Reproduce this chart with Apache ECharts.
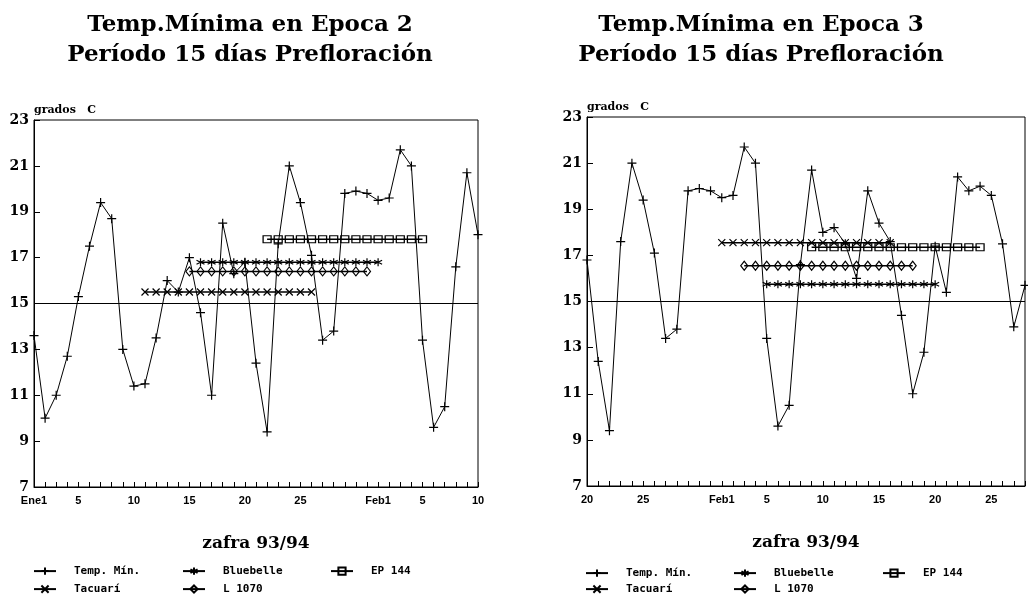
<!DOCTYPE html>
<html>
<head>
<meta charset="utf-8">
<script src="https://cdn.jsdelivr.net/npm/echarts@6/dist/echarts.min.js"></script>
<style>
  html, body { margin: 0; padding: 0; background: #fff; }
  #main { width: 1028px; height: 611px; }
</style>
</head>
<body>
<div id="main"></div>
<script>
// temperatura minima diaria, dia 1 = 1 de enero ... dia 59 = 28 de febrero
var tempMin = [
  13.6, 10.0, 11.0, 12.7, 15.3, 17.5, 19.4, 18.7, 13.0, 11.4,
  11.5, 13.5, 16.0, 15.5, 17.0, 14.6, 11.0, 18.5, 16.3, 16.8,
  12.4, 9.4, 17.6, 21.0, 19.4, 17.1, 13.4, 13.8, 19.8, 19.9,
  19.8, 19.5, 19.6, 21.7, 21.0, 13.4, 9.6, 10.5, 16.6, 20.7,
  18.0, 18.2, 17.5, 16.0, 19.8, 18.4, 17.6, 14.4, 11.0, 12.8,
  17.4, 15.4, 20.4, 19.8, 20.0, 19.6, 17.5, 13.9, 15.7
];

// dias que cubre cada grafico
var epoca2Dias = [1, 41];
var epoca3Dias = [20, 59];

// etiquetas del eje x
var epoca2Ticks = [1, 5, 10, 15, 20, 25, 32, 36, 41];
var epoca2TickNames = ['Ene1', '5', '10', '15', '20', '25', 'Feb1', '5', '10'];
var epoca3Ticks = [20, 25, 32, 36, 41, 46, 51, 56];
var epoca3TickNames = ['20', '25', 'Feb1', '5', '10', '15', '20', '25'];

// [primer dia, ultimo dia, media del periodo de prefloracion]
var ep2Tacuari = [11, 26, 15.5];
var ep2Bluebelle = [16, 32, 16.8];
var ep2L1070 = [15, 31, 16.4];
var ep2EP144 = [22, 36, 17.8];
var ep3Tacuari = [32, 47, 17.55];
var ep3Bluebelle = [36, 51, 15.75];
var ep3L1070 = [34, 49, 16.55];
var ep3EP144 = [40, 55, 17.35];

var SYM = {
  plus: 'path://M0 5H10M5 0V10',
  cross: 'path://M0 0L10 10M10 0L0 10',
  star: 'path://M5 0V10M0.7 2.5L9.3 7.5M9.3 2.5L0.7 7.5',
  square: 'path://M0 0H10V10H0Z',
  diamond: 'path://M5 0L9 5L5 10L1 5Z'
};

var serif = 'DejaVu Serif';

function tempData(range) {
  var out = [];
  for (var d = range[0]; d <= range[1]; d++) out.push([d, tempMin[d - 1]]);
  return out;
}

function levelData(p) {
  var out = [];
  for (var d = p[0]; d <= p[1]; d++) out.push([d, p[2]]);
  return out;
}

function lineSeries(name, idx, data, symbol, size, width) {
  return {
    name: name,
    type: 'line',
    xAxisIndex: idx,
    yAxisIndex: idx,
    data: data,
    symbol: symbol,
    symbolSize: size,
    showAllSymbol: true,
    animation: false,
    lineStyle: { color: '#000', width: width },
    itemStyle: { color: 'none', borderColor: '#000', borderWidth: 1.2 }
  };
}

function xAxisFor(idx, range, ticks, names) {
  return {
    type: 'value',
    gridIndex: idx,
    min: range[0],
    max: range[1],
    interval: 1,
    axisLine: { show: true, lineStyle: { color: '#000', width: 1 } },
    axisTick: { show: true, inside: true, length: 5, lineStyle: { color: '#000' } },
    axisLabel: {
      margin: 8,
      color: '#000',
      fontFamily: 'Liberation Sans',
      fontWeight: 'bold',
      fontSize: 11,
      formatter: function (v) {
        var i = ticks.indexOf(v);
        return i < 0 ? '' : names[i];
      }
    },
    splitLine: { show: false },
    name: 'zafra 93/94',
    nameLocation: 'middle',
    nameGap: 48,
    nameTextStyle: { color: '#000', fontFamily: serif, fontWeight: 'bold', fontSize: 17 }
  };
}

function yAxisFor(idx) {
  return {
    type: 'value',
    gridIndex: idx,
    min: 7,
    max: 23,
    interval: 2,
    axisLine: { show: true, lineStyle: { color: '#000', width: 1 } },
    axisTick: { show: true, inside: true, length: 6, lineStyle: { color: '#000' } },
    axisLabel: { margin: 5, color: '#000', fontFamily: serif, fontWeight: 'bold', fontSize: 14 },
    splitLine: { show: false },
    name: 'grados   C',
    nameLocation: 'end',
    nameGap: 4,
    nameTextStyle: { align: 'left', verticalAlign: 'bottom', color: '#000', fontFamily: serif, fontWeight: 'bold', fontSize: 11 }
  };
}

function chartSeries(idx, range, tac, blue, l1070, ep144) {
  var t = lineSeries('Temp. Mín.', idx, tempData(range), SYM.plus, 9, 1);
  t.markLine = {
    silent: true,
    symbol: 'none',
    label: { show: false },
    lineStyle: { color: '#000', width: 1, type: 'solid' },
    data: [{ yAxis: 15 }]
  };
  return [
    t,
    lineSeries('Tacuarí', idx, levelData(tac), SYM.cross, 7, 1.5),
    lineSeries('Bluebelle', idx, levelData(blue), SYM.star, 8, 1.5),
    lineSeries('L 1070', idx, levelData(l1070), SYM.diamond, [7, 9], 1.5),
    lineSeries('EP 144', idx, levelData(ep144), SYM.square, [8, 7], 1.5)
  ];
}

function legendItem(name, left, top) {
  return {
    data: [name],
    left: left,
    top: top,
    padding: 0,
    itemWidth: 22,
    itemHeight: 9,
    selectedMode: false,
    textStyle: { color: '#000', fontFamily: 'DejaVu Sans Mono', fontWeight: 'bold', fontSize: 11, padding: [0, 0, 0, 13] }
  };
}

var chart = echarts.init(document.getElementById('main'));

var option = {
  backgroundColor: '#fff',
  animation: false,
  title: [
    {
      text: 'Temp.Mínima en Epoca 2\nPeríodo 15 días Prefloración',
      left: 250, top: 10, padding: 0, textAlign: 'center',
      textStyle: { color: '#000', fontFamily: serif, fontWeight: 'bold', fontSize: 23, lineHeight: 30 }
    },
    {
      text: 'Temp.Mínima en Epoca 3\nPeríodo 15 días Prefloración',
      left: 761, top: 10, padding: 0, textAlign: 'center',
      textStyle: { color: '#000', fontFamily: serif, fontWeight: 'bold', fontSize: 23, lineHeight: 30 }
    }
  ],
  grid: [
    { left: 34, top: 120, width: 444, height: 367, show: true, borderColor: '#000', borderWidth: 1 },
    { left: 587, top: 117, width: 440, height: 369, show: true, borderColor: '#000', borderWidth: 1 }
  ],
  xAxis: [
    xAxisFor(0, epoca2Dias, epoca2Ticks, epoca2TickNames),
    xAxisFor(1, epoca3Dias, epoca3Ticks, epoca3TickNames)
  ],
  yAxis: [yAxisFor(0), yAxisFor(1)],
  legend: [
    legendItem('Temp. Mín.', 33, 565),
    legendItem('Bluebelle', 182, 565),
    legendItem('EP 144', 330, 565),
    legendItem('Tacuarí', 33, 583),
    legendItem('L 1070', 182, 583),
    legendItem('Temp. Mín.', 585, 567),
    legendItem('Bluebelle', 733, 567),
    legendItem('EP 144', 882, 567),
    legendItem('Tacuarí', 585, 583),
    legendItem('L 1070', 733, 583)
  ],
  series: [].concat(
    chartSeries(0, epoca2Dias, ep2Tacuari, ep2Bluebelle, ep2L1070, ep2EP144),
    chartSeries(1, epoca3Dias, ep3Tacuari, ep3Bluebelle, ep3L1070, ep3EP144)
  )
};

chart.setOption(option);
</script>
</body>
</html>
